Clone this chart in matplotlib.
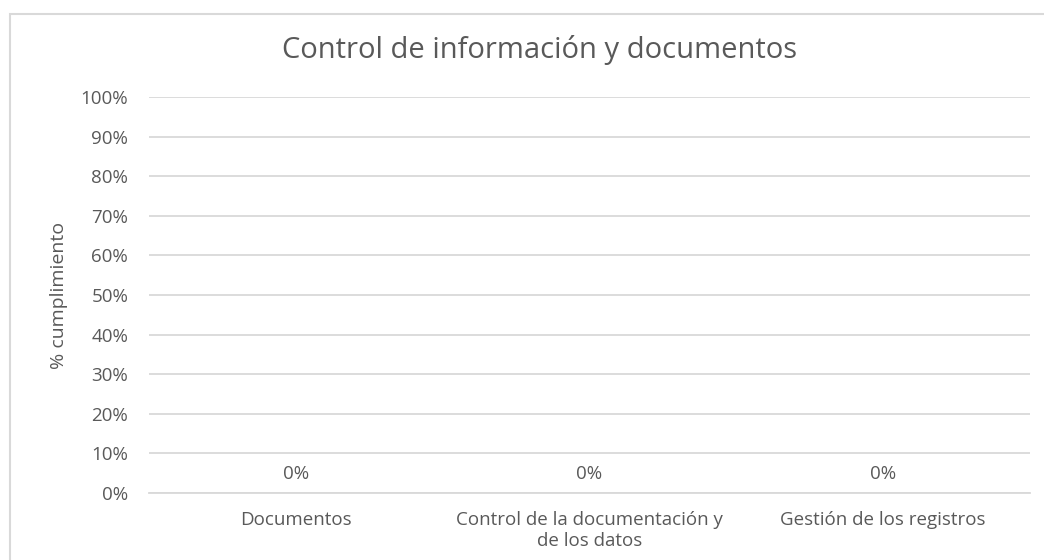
import matplotlib
matplotlib.use("Agg")
import matplotlib.pyplot as plt
from matplotlib.patches import Rectangle
from matplotlib.ticker import PercentFormatter, MultipleLocator

categories = ["Documentos", "Control de la documentación y\nde los datos", "Gestión de los registros"]
values = [0, 0, 0]
title = "Control de información y documentos"
ylabel = "% cumplimiento"

plt.rcParams['font.family'] = ['Open Sans', 'DejaVu Sans']
txt = '#595959'
grid = '#d9d9d9'

fig = plt.figure(figsize=(10.44, 5.6), dpi=100)
ax = fig.add_axes([149/1044, 1 - 493/560, (1030 - 149)/1044, (493 - 97)/560])

x = list(range(len(categories)))
bars = ax.bar(x, values, width=0.5, color='#4472c4')
ax.set_xlim(-0.5, len(categories) - 0.5)
ax.set_ylim(0, 1)
ax.yaxis.set_major_locator(MultipleLocator(0.1))
ax.yaxis.set_major_formatter(PercentFormatter(1.0, decimals=0))
ax.grid(axis='y', color=grid, linewidth=1.3)
ax.set_axisbelow(True)
for s in ['top', 'right', 'left']:
    ax.spines[s].set_visible(False)
ax.spines['bottom'].set_color(grid)
ax.spines['bottom'].set_linewidth(1.3)
ax.tick_params(axis='both', length=0, labelsize=13.5, colors=txt)
ax.tick_params(axis='y', pad=15)
ax.tick_params(axis='x', pad=13)
ax.set_xticks(x)
ax.set_xticklabels(categories, linespacing=1.2)

for xi, v in zip(x, values):
    ax.annotate(f"{v:.0%}", (xi, v), xytext=(0, 7), textcoords='offset points',
                ha='center', va='bottom', fontsize=13.5, color=txt)

ax.set_ylabel(ylabel, fontsize=14, color=txt, labelpad=9)
fig.text(540/1044, 1 - 50/560, title, ha='center', va='center', fontsize=21, color=txt)

fig.patches.append(Rectangle((10/1044, -0.1), 1.2, 1 - 14/560 + 0.1, transform=fig.transFigure,
                             fill=False, edgecolor=grid, linewidth=1.5, clip_on=False))

fig.savefig("out.png", dpi=100, facecolor='white')
